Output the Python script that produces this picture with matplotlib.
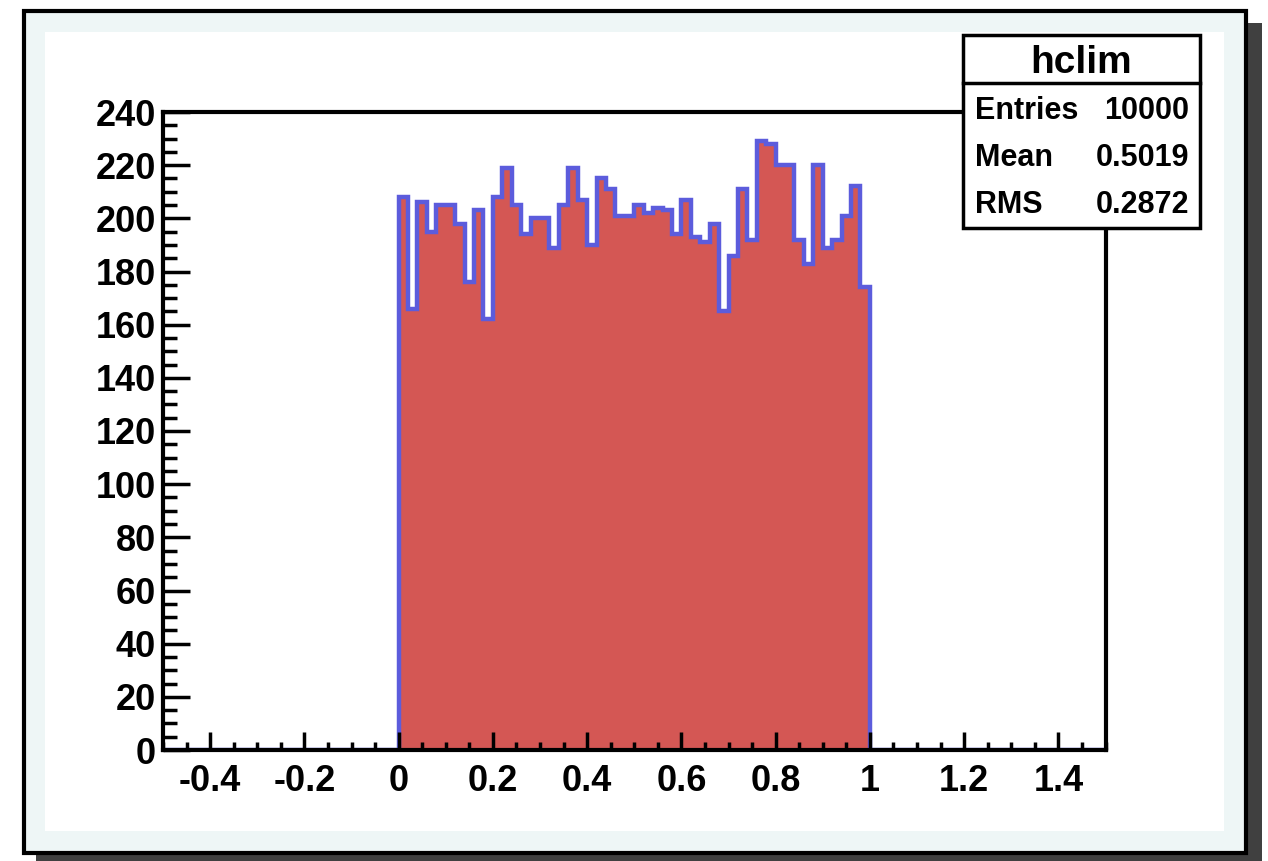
import matplotlib
matplotlib.use("Agg")
import matplotlib.pyplot as plt
from matplotlib.patches import Rectangle
from matplotlib.lines import Line2D
from matplotlib.ticker import MultipleLocator
import numpy as np

# ---- data ----
x_min, x_max, n_bins = -0.5, 1.5, 100
counts_0_1 = [208, 166, 206, 195, 205, 205, 198, 176, 203, 162,
              208, 219, 205, 194, 200, 200, 189, 205, 219, 207,
              190, 215, 211, 201, 201, 205, 202, 204, 203, 194,
              207, 193, 191, 198, 165, 186, 211, 192, 229, 228,
              220, 220, 192, 183, 220, 189, 192, 201, 212, 174]
counts = [0] * 25 + counts_0_1 + [0] * 25
edges = np.linspace(x_min, x_max, n_bins + 1)
x_ticks = [-0.4, -0.2, 0, 0.2, 0.4, 0.6, 0.8, 1, 1.2, 1.4]
x_tick_labels = ["-0.4", "-0.2", "0", "0.2", "0.4", "0.6", "0.8", "1", "1.2", "1.4"]
y_ticks = list(range(0, 241, 20))
stats_title = "hclim"
stats_rows = [("Entries", "10000"), ("Mean", "0.5019"), ("RMS", "0.2872")]

W, H = 1268, 861
FONT = "Liberation Sans"
FILL = "#d45754"
LINE = "#5c5cdc"

fig = plt.figure(figsize=(W / 100, H / 100), dpi=100, facecolor="white")

def fx(px):
    return px / W

def fy(py):
    return 1 - py / H

def frect(x0, y0, x1, y1, **kw):
    r = Rectangle((fx(x0), fy(y1)), fx(x1) - fx(x0), fy(y0) - fy(y1),
                  transform=fig.transFigure, **kw)
    fig.add_artist(r)
    return r

# canvas shadow, canvas border, inner pad
frect(36, 23, 1262, 875, facecolor="#404040", edgecolor="none", zorder=-5)
frect(24, 11, 1246, 853, facecolor="#eef6f6", edgecolor="black", linewidth=3, zorder=-4)
frect(45, 32, 1224, 831, facecolor="white", edgecolor="none", zorder=-3)

# axes
ax_l, ax_r, ax_t, ax_b = 163, 1105.5, 112, 750
ax = fig.add_axes([fx(ax_l), fy(ax_b), fx(ax_r) - fx(ax_l), fy(ax_t) - fy(ax_b)])
ax.set_facecolor("white")
ax.set_axisbelow(False)

ax.stairs(counts, edges, fill=True, facecolor=FILL, edgecolor="none", zorder=2)
ax.stairs(counts, edges, fill=False, color=LINE, linewidth=3.2, zorder=2.2)

ax.set_xlim(x_min, x_max)
ax.set_ylim(0, 240)

for s in ax.spines.values():
    s.set_linewidth(3)
    s.set_zorder(3)

ax.set_xticks(x_ticks)
ax.set_xticklabels(x_tick_labels)
ax.xaxis.set_minor_locator(MultipleLocator(0.05))
ax.set_yticks(y_ticks)
ax.yaxis.set_minor_locator(MultipleLocator(5))

ax.tick_params(axis="x", which="major", direction="in", length=13, width=2.5, pad=10,
               top=False, labelsize=26)
ax.tick_params(axis="x", which="minor", direction="in", length=6, width=2.5, top=False)
ax.tick_params(axis="y", which="major", direction="in", length=19.5, width=2.5, pad=5,
               right=False, labelsize=26)
ax.tick_params(axis="y", which="minor", direction="in", length=10, width=2.5, right=False)
for lab in ax.get_xticklabels() + ax.get_yticklabels():
    lab.set_fontfamily(FONT)
    lab.set_fontweight("bold")

# stats box
bx0, bx1, by0, by1, bdiv = 963, 1200, 35, 228, 83
frect(bx0, by0, bx1, by1, facecolor="white", edgecolor="black", linewidth=2.5, zorder=5)
fig.add_artist(Line2D([fx(bx0), fx(bx1)], [fy(bdiv), fy(bdiv)], transform=fig.transFigure,
                      color="black", linewidth=2.5, zorder=6))
fig.text(fx((bx0 + bx1) / 2), fy(63), stats_title, ha="center", va="center",
         fontsize=28, fontweight="bold", family=FONT, zorder=7)
row_y = [111, 158, 205]
for (lab, val), yy in zip(stats_rows, row_y):
    fig.text(fx(975), fy(yy), lab, ha="left", va="center", fontsize=22,
             fontweight="bold", family=FONT, zorder=7)
    fig.text(fx(1189), fy(yy), val, ha="right", va="center", fontsize=22,
             fontweight="bold", family=FONT, zorder=7)

fig.savefig("out.png", dpi=100, facecolor="white")
